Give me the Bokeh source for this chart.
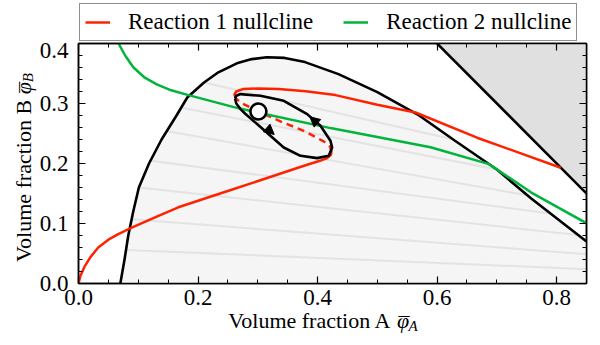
import numpy as np
from bokeh.plotting import figure
from bokeh.layouts import column
from bokeh.core.properties import value
from bokeh.models import (Range1d, LinearAxis, FixedTicker, Legend, LegendItem,
                          Arrow, NormalHead)
from bokeh.embed import file_html
from bokeh.resources import INLINE

# ---------------- data ----------------
binodal_x = [0.070, 0.077, 0.0833, 0.0916, 0.101, 0.118, 0.139, 0.164, 0.182, 0.21,
             0.234, 0.265, 0.29, 0.315, 0.345, 0.379, 0.435, 0.50, 0.567, 0.63,
             0.70, 0.757, 0.85]
binodal_y = [0.0, 0.04, 0.08, 0.12, 0.16, 0.20, 0.24, 0.28, 0.31, 0.335,
             0.352, 0.367, 0.374, 0.377, 0.376, 0.369, 0.349, 0.319, 0.282, 0.238,
             0.19, 0.142, 0.07]
tie_x0 = [0.080, 0.089, 0.101, 0.118, 0.147, 0.173, 0.21]
tie_y0 = [0.056, 0.107, 0.160, 0.205, 0.254, 0.293, 0.335]
tie_x1 = [0.86, 0.86, 0.835, 0.79, 0.751, 0.70, 0.628]
tie_y1 = [0.0235, 0.048, 0.081, 0.1166, 0.147, 0.19, 0.24]
simplex_x = [0.55, 1.0]
simplex_y = [0.45, 0.0]
r1_lower_x = [0.0, 0.003, 0.01, 0.02, 0.033, 0.05, 0.0665, 0.089, 0.13, 0.167, 0.251,
              0.3345, 0.38, 0.404, 0.416, 0.422, 0.4235]
r1_lower_y = [0.0, 0.012, 0.028, 0.044, 0.06, 0.073, 0.0823, 0.093, 0.111, 0.127, 0.1545,
              0.182, 0.197, 0.2045, 0.209, 0.214, 0.219]
r1_mid_x = [0.4235, 0.421, 0.41, 0.377, 0.343, 0.304, 0.271, 0.263]
r1_mid_y = [0.219, 0.228, 0.237, 0.2545, 0.268, 0.285, 0.3017, 0.309]
r1_upper_x = [0.263, 0.261, 0.264, 0.275, 0.30, 0.335, 0.38, 0.43, 0.50, 0.564, 0.667, 0.807]
r1_upper_y = [0.309, 0.315, 0.32, 0.324, 0.325, 0.324, 0.3205, 0.314, 0.298, 0.285, 0.243, 0.193]
r2_x = [0.067, 0.078, 0.092, 0.111, 0.131, 0.155, 0.184, 0.26, 0.30, 0.4216, 0.50,
        0.589, 0.687, 0.757, 0.86]
r2_y = [0.40, 0.38, 0.36, 0.343, 0.332, 0.322, 0.314, 0.294, 0.285, 0.259, 0.244,
        0.227, 0.199, 0.152, 0.095]
cycle_x = [0.262, 0.264, 0.271, 0.279, 0.2988, 0.3211, 0.3434, 0.3714, 0.3993, 0.4188,
           0.4244, 0.4216, 0.4049, 0.3826, 0.3434, 0.3044, 0.271, 0.264, 0.262]
cycle_y = [0.308, 0.300, 0.2907, 0.283, 0.2657, 0.2462, 0.2267, 0.2128, 0.209, 0.2128,
           0.2267, 0.2378, 0.2628, 0.2823, 0.3045, 0.3128, 0.3157, 0.313, 0.308]
arrow_x_start = [0.393, 0.3215]
arrow_y_start = [0.2727, 0.2535]
arrow_x_end = [0.387, 0.3275]
arrow_y_end = [0.2778, 0.2483]
fp_x = [0.301]
fp_y = [0.2867]
x_ticks = [0.0, 0.2, 0.4, 0.6, 0.8]
x_tick_labels = ["0.0", "0.2", "0.4", "0.6", "0.8"]
y_ticks = [0.0, 0.1, 0.2, 0.3, 0.4]
y_tick_labels = ["0.0", "0.1", "0.2", "0.3", "0.4"]
legend_labels = ["Reaction 1 nullcline", "Reaction 2 nullcline"]

RED = "#ff2200"
GREEN = "#00b43c"
FONT = "Liberation Serif"

# ---------------- legend strip (its own small figure above the chart) ----------------
# The same nullcline data is drawn here, outside the strip's visible y range,
# so that the legend shows the proper line samples.
top = figure(width=600, height=42, x_range=Range1d(0, 1), y_range=Range1d(10, 11),
             min_border_left=78, min_border_right=14, min_border_top=0, min_border_bottom=0,
             output_backend="svg", toolbar_location=None, x_axis_type=None, y_axis_type=None)
top.xgrid.visible = False
top.ygrid.visible = False
top.outline_line_color = None
top.background_fill_color = "white"
top.border_fill_color = "white"
lg_red = top.line(r1_lower_x, r1_lower_y, line_color=RED, line_width=2.5)
lg_green = top.line(r2_x, r2_y, line_color=GREEN, line_width=2.5)
legend = Legend(items=[LegendItem(label=legend_labels[0], renderers=[lg_red]),
                       LegendItem(label=legend_labels[1], renderers=[lg_green])],
                orientation="horizontal", location=(1, 1), padding=5, margin=0,
                spacing=30, glyph_width=25, glyph_height=20, label_height=20,
                label_standoff=18, label_text_font=FONT, label_text_font_size="23px",
                label_text_color="black",
                border_line_color="#222222", border_line_width=1,
                background_fill_color="white", background_fill_alpha=1.0)
top.add_layout(legend, "center")

# ---------------- main chart ----------------
p = figure(width=600, height=303, x_range=Range1d(0, 0.85), y_range=Range1d(0, 0.4),
           min_border_left=78, min_border_right=14, min_border_top=1, min_border_bottom=62,
           output_backend="svg", toolbar_location=None, x_axis_type=None, y_axis_type=None)
p.xgrid.visible = False
p.ygrid.visible = False
p.background_fill_color = "white"
p.border_fill_color = "white"
p.outline_line_color = "black"
p.outline_line_width = 1.5

x_minor = list(np.round(np.arange(0.0, 0.851, 0.05), 3))
y_minor = list(np.round(np.arange(0.0, 0.401, 0.02), 3))
xt = FixedTicker(ticks=x_ticks, minor_ticks=x_minor)
yt = FixedTicker(ticks=y_ticks, minor_ticks=y_minor)


def style_axis(ax, show_labels, standoff):
    ax.axis_line_color = "black"
    ax.axis_line_width = 1.5
    ax.major_tick_in = 7
    ax.major_tick_out = 0
    ax.minor_tick_in = 4
    ax.minor_tick_out = 0
    ax.major_tick_line_color = "black"
    ax.minor_tick_line_color = "black"
    ax.major_tick_line_width = 1.2
    ax.minor_tick_line_width = 1.0
    ax.major_label_standoff = standoff
    if show_labels:
        ax.major_label_text_font = FONT
        ax.major_label_text_font_size = "23px"
        ax.major_label_text_color = "black"
    else:
        ax.major_label_text_font_size = "1px"
        ax.major_label_text_color = None


xb = LinearAxis(ticker=xt, major_label_overrides=dict(zip(x_ticks, x_tick_labels)))
style_axis(xb, True, 6)
p.add_layout(xb, "below")
yl = LinearAxis(ticker=yt, major_label_overrides=dict(zip(y_ticks, y_tick_labels)))
style_axis(yl, True, 10)
p.add_layout(yl, "left")
xtop = LinearAxis(ticker=xt)
style_axis(xtop, False, 0)
p.add_layout(xtop, "above")
yr = LinearAxis(ticker=yt)
style_axis(yr, False, 0)
p.add_layout(yr, "right")

p.patch(binodal_x + [binodal_x[-1]], binodal_y + [0.0], fill_color="#f5f5f5", line_color=None)
p.segment(tie_x0, tie_y0, tie_x1, tie_y1, line_color="#e3e3e3", line_width=2)
p.line(binodal_x, binodal_y, line_color="black", line_width=2.6)
p.patch(simplex_x + [simplex_x[1]], simplex_y[:1] + [simplex_y[0], simplex_y[1]],
        fill_color="#e0e0e0", line_color=None)
p.line(simplex_x, simplex_y, line_color="black", line_width=2.6)
p.line(r1_lower_x, r1_lower_y, line_color=RED, line_width=2.5)
p.line(r1_mid_x, r1_mid_y, line_color=RED, line_width=2.5, line_dash="7 5")
p.line(r1_upper_x, r1_upper_y, line_color=RED, line_width=2.5)
p.line(r2_x, r2_y, line_color=GREEN, line_width=2.5)
p.line(cycle_x, cycle_y, line_color="black", line_width=2.6)
for xs, ys, xe, ye in zip(arrow_x_start, arrow_y_start, arrow_x_end, arrow_y_end):
    p.add_layout(Arrow(end=NormalHead(size=10, fill_color="black", line_color="black", line_width=1),
                       x_start=xs, y_start=ys, x_end=xe, y_end=ye,
                       line_alpha=0, line_width=0))
p.scatter(fp_x, fp_y, marker="circle", size=16, fill_color="white", line_color="black",
          line_width=2.6)

# axis titles as text glyphs drawn at overlay level (outside the frame)
LBL = value("22px")
SUB = value("15px")
F = value(FONT)
common = dict(text_font=F, text_baseline="alphabetic", text_color="black", level="overlay")

# x title: "Volume fraction A", barred phi, subscript A
p.text(x=[0.5238], y=[-0.0621], text=["Volume fraction A"], text_font_size=LBL,
       text_align="right", **common)
p.text(x=[0.5331], y=[-0.0621], text=["\u03c6"], text_font_size=LBL,
       text_font_style="italic", text_align="left", **common)
p.text(x=[0.5448], y=[-0.0678], text=["\u00af"], text_font_size=LBL,
       text_align="center", **common)
p.text(x=[0.5523], y=[-0.0705], text=["A"], text_font_size=SUB,
       text_font_style="italic", text_align="left", **common)

# y title (rotated): "Volume fraction B", barred phi, subscript B
p.text(x=[-0.0916], y=[0.306], text=["Volume fraction B"], text_font_size=LBL,
       text_align="right", angle=np.pi / 2, **common)
p.text(x=[-0.0916], y=[0.3153], text=["\u03c6"], text_font_size=LBL,
       text_font_style="italic", text_align="left", angle=np.pi / 2, **common)
p.text(x=[-0.0859], y=[0.327], text=["\u00af"], text_font_size=LBL,
       text_align="center", angle=np.pi / 2, **common)
p.text(x=[-0.0849], y=[0.3353], text=["B"], text_font_size=SUB,
       text_font_style="italic", text_align="left", angle=np.pi / 2, **common)

layout = column(top, p)
open("out.html", "w").write(file_html(layout, INLINE))
